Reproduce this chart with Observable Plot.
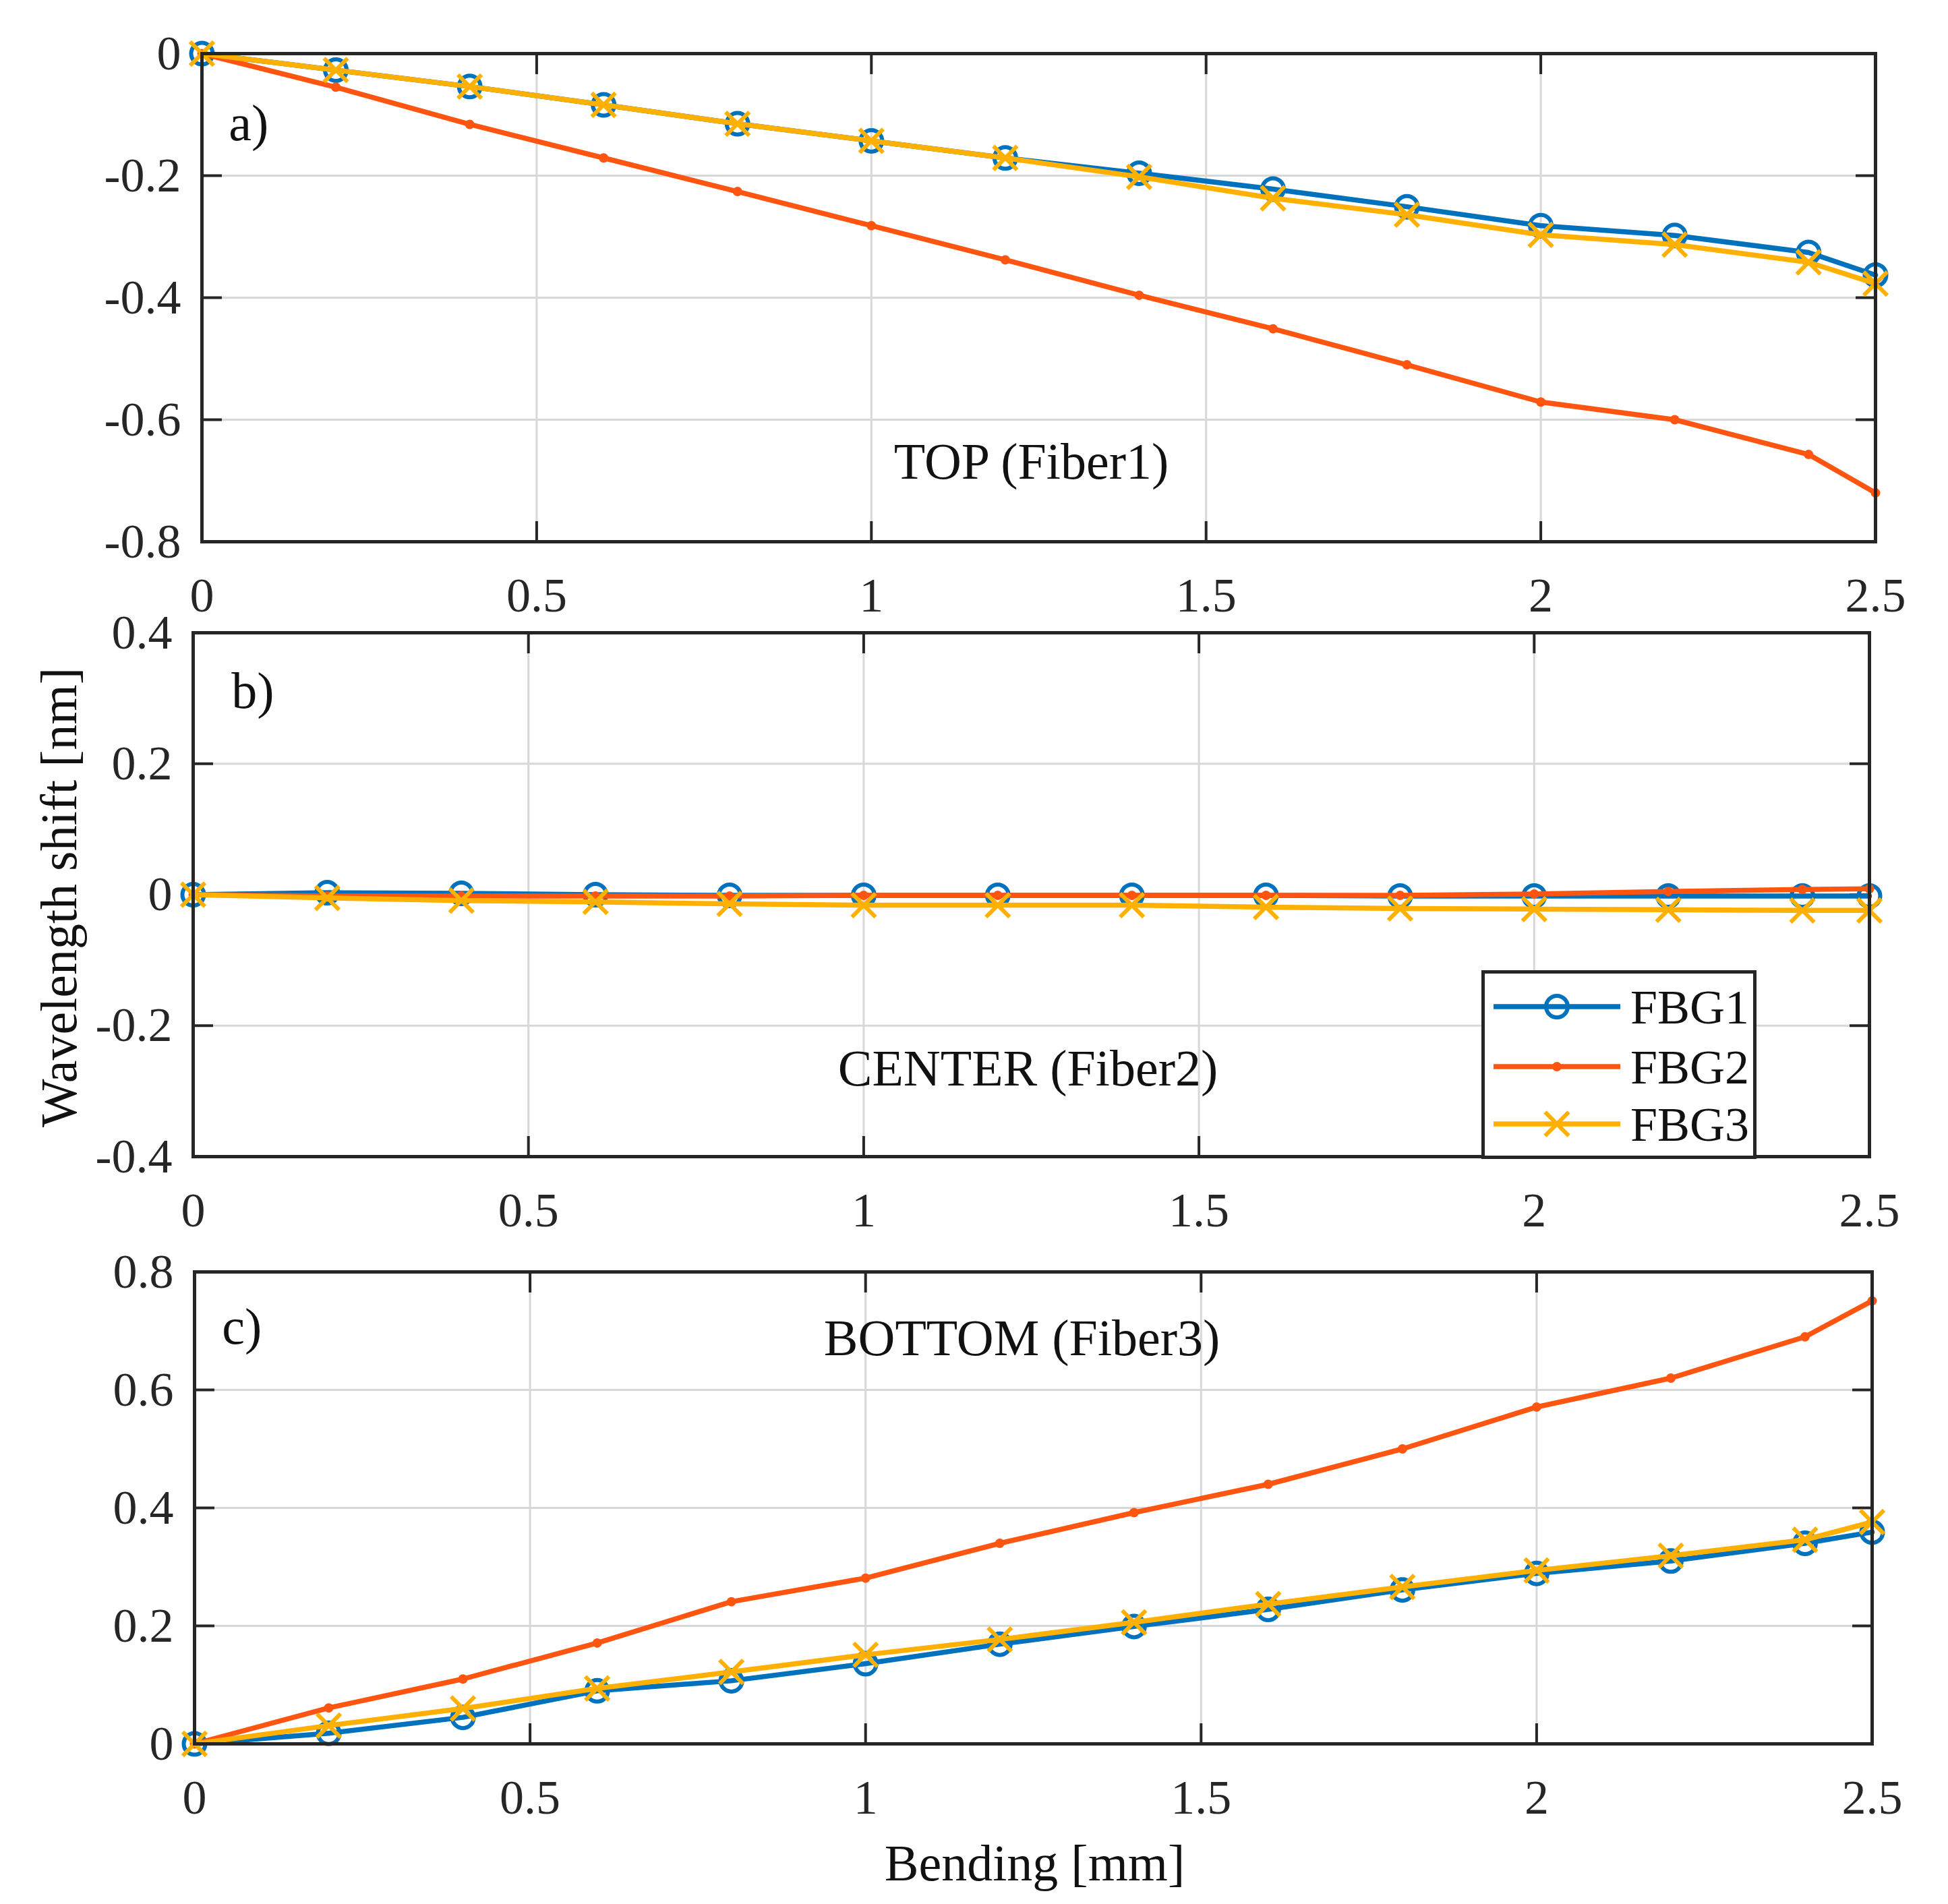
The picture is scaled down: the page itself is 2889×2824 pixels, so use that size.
<!DOCTYPE html>
<html><head><meta charset="utf-8">
<script src="https://cdn.jsdelivr.net/npm/d3@7"></script>
<script src="https://cdn.jsdelivr.net/npm/@observablehq/plot@0.6"></script>
<style>
html,body{margin:0;padding:0;background:#fff;}
#chart{position:relative;width:2889px;height:2824px;overflow:hidden;background:#fff;}
</style></head><body><div id="chart"></div>
<script>
const bending = [0, 0.2, 0.4, 0.6, 0.8, 1.0, 1.2, 1.4, 1.6, 1.8, 2.0, 2.2, 2.4, 2.5];
const seriesNames = ["FBG1", "FBG2", "FBG3"];
const seriesColors = ["#0072BD", "#FF5511", "#FFB000"];
const topFBG1 = [0, -0.027, -0.054, -0.084, -0.115, -0.143, -0.171, -0.196, -0.222, -0.251, -0.282, -0.298, -0.326, -0.363];
const topFBG2 = [0, -0.055, -0.116, -0.171, -0.226, -0.282, -0.338, -0.396, -0.451, -0.510, -0.571, -0.600, -0.657, -0.720];
const topFBG3 = [0, -0.027, -0.054, -0.084, -0.115, -0.143, -0.171, -0.202, -0.237, -0.264, -0.297, -0.313, -0.342, -0.377];
const centerFBG1 = [0, 0.003, 0.002, 0, -0.001, -0.001, -0.001, -0.001, -0.001, -0.002, -0.002, -0.002, -0.002, -0.002];
const centerFBG2 = [0, -0.002, -0.002, -0.002, -0.002, -0.001, -0.001, -0.001, -0.001, -0.001, 0.001, 0.005, 0.008, 0.009];
const centerFBG3 = [0, -0.005, -0.009, -0.011, -0.014, -0.016, -0.016, -0.016, -0.019, -0.021, -0.022, -0.023, -0.024, -0.024];
const bottomFBG1 = [0, 0.018, 0.045, 0.09, 0.107, 0.136, 0.169, 0.199, 0.228, 0.261, 0.289, 0.31, 0.34, 0.359];
const bottomFBG2 = [0, 0.061, 0.110, 0.171, 0.241, 0.281, 0.340, 0.392, 0.440, 0.500, 0.571, 0.620, 0.690, 0.751];
const bottomFBG3 = [0, 0.031, 0.06, 0.094, 0.122, 0.151, 0.177, 0.206, 0.237, 0.266, 0.294, 0.319, 0.346, 0.376];
const xTicks = [0, 0.5, 1, 1.5, 2, 2.5];
const yTicksTop = [-0.8, -0.6, -0.4, -0.2, 0];
const yTicksCenter = [-0.4, -0.2, 0, 0.2, 0.4];
const yTicksBottom = [0, 0.2, 0.4, 0.6, 0.8];
const panelLetters = ["a)", "b)", "c)"];
const panelTitles = ["TOP (Fiber1)", "CENTER (Fiber2)", "BOTTOM (Fiber3)"];
const xLabel = "Bending [mm]";
const yLabel = "Wavelength shift [nm]";

const FONT = "'Liberation Serif', 'Times New Roman', serif";
const INK = "#262626";
const chart = document.getElementById("chart");

function tidy(arrs) {
  return arrs.flatMap((vals, i) => vals.map((v, j) => ({x: bending[j], y: v, series: seriesNames[i]})));
}
function markerOpts(i) {
  const c = seriesColors[i];
  if (i === 0) return {symbol: "circle", stroke: c, fill: "none", r: 16, strokeWidth: 6};
  if (i === 1) return {symbol: "circle", fill: c, stroke: "none", r: 7};
  return {symbol: "times", stroke: c, fill: "none", r: 16, strokeWidth: 6};
}
const fmt = d => String(d);

function panel(cfg) {
  const data = tidy(cfg.values);
  const yt = cfg.yTicks;
  const marks = [
    Plot.gridX(xTicks.slice(1, -1), {stroke: "#d8d8d8", strokeOpacity: 1, strokeWidth: 3}),
    Plot.gridY(yt.slice(1, -1), {stroke: "#d8d8d8", strokeOpacity: 1, strokeWidth: 3}),
    Plot.axisX({anchor: "bottom", ticks: xTicks, tickSize: -30, tickPadding: 82, tickFormat: fmt, label: null, fontSize: 72, strokeWidth: 4}),
    Plot.axisX({anchor: "top", ticks: xTicks, tickSize: -30, tickFormat: () => "", label: null, strokeWidth: 4}),
    Plot.axisY({anchor: "left", ticks: yt, tickSize: -30, tickPadding: 61, tickFormat: fmt, label: null, fontSize: 72, strokeWidth: 4}),
    Plot.axisY({anchor: "right", ticks: yt, tickSize: -30, tickFormat: () => "", label: null, strokeWidth: 4})
  ];
  seriesNames.forEach((s, i) => {
    const d = data.filter(r => r.series === s);
    marks.push(Plot.line(d, {x: "x", y: "y", stroke: seriesColors[i], strokeWidth: 7.5}));
    marks.push(Plot.dot(d, {x: "x", y: "y", ...markerOpts(i)}));
  });
  marks.push(Plot.frame({stroke: INK, strokeWidth: 5}));
  marks.push(Plot.text([cfg.letter], {x: cfg.letterAt[0], y: cfg.letterAt[1], text: d => d, textAnchor: "start", fontSize: 76, fill: "#111"}));
  marks.push(Plot.text([cfg.title], {x: cfg.titleAt[0], y: cfg.titleAt[1], text: d => d, fontSize: 76, fill: "#111"}));
  if (cfg.extra) marks.push(...cfg.extra);
  const svg = Plot.plot({
    width: 2889, height: cfg.height,
    marginTop: cfg.mt, marginBottom: cfg.mb, marginLeft: cfg.ml, marginRight: cfg.mr,
    x: {domain: [0, 2.5], label: null},
    y: {domain: [yt[0], yt[yt.length - 1]], label: null},
    style: {fontFamily: FONT, fontSize: "72px", color: INK, background: "transparent", overflow: "visible"},
    marks
  });
  svg.style.position = "absolute";
  svg.style.left = "0px";
  svg.style.top = cfg.top + "px";
  chart.appendChild(svg);
}

panel({values: [topFBG1, topFBG2, topFBG3], yTicks: yTicksTop, letter: panelLetters[0], title: panelTitles[0],
  letterAt: [0.04, -0.115], titleAt: [1.239, -0.67],
  top: 0, height: 930, mt: 79, mb: 127, ml: 299, mr: 108});

panel({values: [centerFBG1, centerFBG2, centerFBG3], yTicks: yTicksCenter, letter: panelLetters[1], title: panelTitles[1],
  letterAt: [0.057, 0.31], titleAt: [1.245, -0.266],
  top: 880, height: 965, mt: 58, mb: 130, ml: 286, mr: 117,
  extra: [Plot.text([yLabel], {frameAnchor: "left", textAnchor: "middle", lineAnchor: "middle", dx: -198, dy: 4, rotate: -90, text: d => d, fontSize: 76, fill: "#111"})]});

panel({values: [bottomFBG1, bottomFBG2, bottomFBG3], yTicks: yTicksBottom, letter: panelLetters[2], title: panelTitles[2],
  letterAt: [0.041, 0.706], titleAt: [1.233, 0.687],
  top: 1830, height: 994, mt: 56, mb: 238, ml: 288, mr: 113,
  extra: [Plot.text([xLabel], {frameAnchor: "bottom", textAnchor: "middle", lineAnchor: "middle", dx: 2, dy: 178, text: d => d, fontSize: 76, fill: "#111"})]});

// Legend (inside panel b)
const lg = d3.create("svg").attr("width", 408).attr("height", 280)
  .style("position", "absolute").style("left", "2197px").style("top", "1439px");
lg.append("rect").attr("x", 2.5).attr("y", 2.5).attr("width", 403).attr("height", 275)
  .attr("fill", "#fff").attr("stroke", INK).attr("stroke-width", 5);
const rowY = [54, 143, 228];
seriesNames.forEach((s, i) => {
  const g = lg.append("g").attr("transform", `translate(0,${rowY[i]})`);
  g.append("line").attr("x1", 18).attr("x2", 206).attr("y1", 0).attr("y2", 0)
    .attr("stroke", seriesColors[i]).attr("stroke-width", 7.5);
  const m = markerOpts(i);
  const sym = m.symbol === "times" ? d3.symbolTimes : d3.symbolCircle;
  g.append("path").attr("transform", "translate(112,0)")
    .attr("d", d3.symbol(sym, Math.PI * m.r * m.r)())
    .attr("fill", m.fill).attr("stroke", m.stroke).attr("stroke-width", m.strokeWidth || 0);
  g.append("text").attr("x", 221).attr("y", 0).attr("dy", "0.35em")
    .attr("font-family", FONT).attr("font-size", 72).attr("fill", "#111").text(s);
});
chart.appendChild(lg.node());
</script></body></html>
